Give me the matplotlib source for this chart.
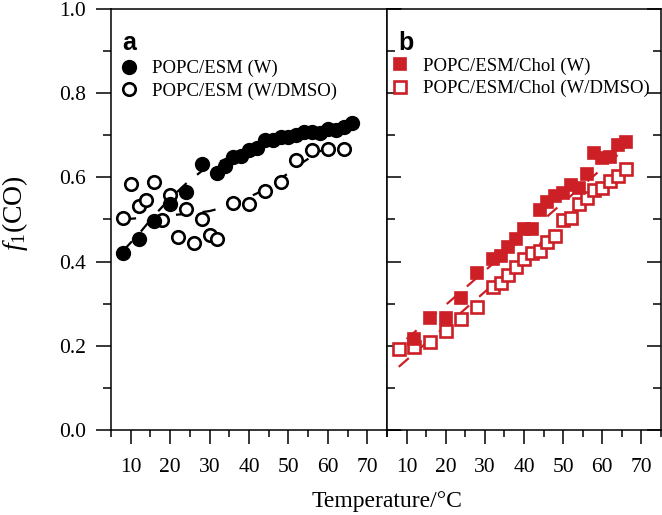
import matplotlib
matplotlib.use('Agg')
import matplotlib.pyplot as plt
from matplotlib.ticker import MultipleLocator

plt.rcParams['font.family'] = 'Liberation Serif'
plt.rcParams['mathtext.fontset'] = 'custom'
plt.rcParams['mathtext.rm'] = 'Liberation Serif'
plt.rcParams['mathtext.it'] = 'Liberation Serif:italic'

# panel a: POPC/ESM
t_esm_w = [8, 12, 16, 20, 24, 28, 32, 34, 36, 38, 40, 42, 44, 46, 48, 50, 52, 54, 56, 58, 60, 62, 64, 66]
f_esm_w = [0.421, 0.453, 0.497, 0.536, 0.566, 0.633, 0.610, 0.628, 0.649, 0.651, 0.665, 0.669,
           0.689, 0.689, 0.697, 0.697, 0.701, 0.709, 0.709, 0.705, 0.716, 0.713, 0.720, 0.730]
t_esm_d = [8, 10, 12, 14, 16, 18, 20, 22, 24, 26, 28, 30, 32, 36, 40, 44, 48, 52, 56, 60, 64]
f_esm_d = [0.503, 0.584, 0.531, 0.546, 0.588, 0.499, 0.558, 0.459, 0.524, 0.443, 0.501, 0.463,
           0.453, 0.540, 0.538, 0.568, 0.588, 0.641, 0.665, 0.667, 0.667]
# fitted curves
fit_t_esm_w = [8, 12, 16, 20, 24, 28, 32, 36, 40, 44, 48, 52, 56, 60, 66]
fit_f_esm_w = [0.425, 0.465, 0.51, 0.55, 0.585, 0.615, 0.635, 0.652, 0.668, 0.68, 0.692, 0.70, 0.708, 0.715, 0.725]
fit_t_esm_d = [8, 14, 20, 26, 30, 34, 38, 42, 46, 50, 54, 58, 64]
fit_f_esm_d = [0.50, 0.505, 0.51, 0.515, 0.52, 0.53, 0.545, 0.562, 0.585, 0.61, 0.638, 0.662, 0.69]

# panel b: POPC/ESM/Chol
t_chol_w = [12, 16, 20, 24, 28, 32, 34, 36, 38, 40, 42, 44, 46, 48, 50, 52, 54, 56, 58, 60, 62, 64, 66]
f_chol_w = [0.215, 0.265, 0.265, 0.314, 0.372, 0.405, 0.413, 0.435, 0.453, 0.477, 0.477, 0.523,
            0.542, 0.556, 0.562, 0.582, 0.574, 0.608, 0.657, 0.645, 0.649, 0.677, 0.685]
t_chol_d = [8, 12, 16, 20, 24, 28, 32, 34, 36, 38, 40, 42, 44, 46, 48, 50, 52, 54, 56, 58, 60, 62, 64, 66]
f_chol_d = [0.192, 0.198, 0.210, 0.236, 0.264, 0.291, 0.339, 0.349, 0.368, 0.388, 0.406, 0.420,
            0.426, 0.447, 0.461, 0.500, 0.503, 0.537, 0.550, 0.570, 0.574, 0.592, 0.603, 0.621]
fit_t_chol_w = [10, 66]
fit_f_chol_w = [0.216, 0.67]
fit_t_chol_d = [8, 66]
fit_f_chol_d = [0.150, 0.62]

red = '#cd1f26'

fig = plt.figure(figsize=(6.62, 5.15), dpi=100)
axa = fig.add_axes([111/662, 1 - 430/515, 276/662, 421/515])
axb = fig.add_axes([387/662, 1 - 430/515, 274/662, 421/515], sharey=axa)

dash = dict(ls=(0, (6, 6)), lw=1.6, zorder=1)
axa.plot(fit_t_esm_w, fit_f_esm_w, color='black', **dash)
axa.plot(fit_t_esm_d, fit_f_esm_d, color='black', **dash)
axa.plot(t_esm_w, f_esm_w, 'o', ms=9.5, color='black', mec='black', mew=1.5, zorder=3,
         label='POPC/ESM (W)')
axa.plot(t_esm_d, f_esm_d, 'o', ms=9, mfc='white', mec='black', mew=1.9, zorder=2,
         label='POPC/ESM (W/DMSO)')

axb.plot(fit_t_chol_w, fit_f_chol_w, color=red, **dash)
axb.plot(fit_t_chol_d, fit_f_chol_d, color=red, **dash)
axb.plot(t_chol_w, f_chol_w, 's', ms=8.5, color=red, mec=red, mew=1.2, zorder=3,
         label='POPC/ESM/Chol (W)')
axb.plot(t_chol_d, f_chol_d, 's', ms=8, mfc='white', mec=red, mew=1.9, zorder=2,
         label='POPC/ESM/Chol (W/DMSO)')

for ax in (axa, axb):
    ax.set_xlim(5, 75)
    ax.set_ylim(0, 1.0)
    ax.xaxis.set_major_locator(MultipleLocator(10))
    ax.xaxis.set_minor_locator(MultipleLocator(5))
    ax.yaxis.set_major_locator(MultipleLocator(0.2))
    ax.yaxis.set_minor_locator(MultipleLocator(0.1))
    for s in ax.spines.values():
        s.set_linewidth(1.1)
    ax.tick_params(axis='x', which='both', direction='out', top=False, labelsize=15.5, width=1.1, pad=10)
    ax.tick_params(axis='x', which='major', length=10)
    ax.tick_params(axis='x', which='minor', length=5)

axa.legend(loc='upper left', bbox_to_anchor=(-0.018, 0.91), frameon=False, fontsize=13.5,
           handlelength=1.0, handletextpad=0.75, labelspacing=0.28, borderaxespad=0.3)
axb.legend(loc='upper left', bbox_to_anchor=(-0.035, 0.916), frameon=False, fontsize=13.5,
           handlelength=1.0, handletextpad=0.75, labelspacing=0.28, borderaxespad=0.3)

axa.tick_params(axis='y', which='both', left=True, right=True, width=1.1, labelsize=15.5)
axa.tick_params(axis='y', which='major', length=11, pad=7)
axa.tick_params(axis='y', which='minor', length=6)
axa.tick_params(axis='y', which='both', direction='out')
axa.yaxis.set_major_formatter(matplotlib.ticker.FormatStrFormatter('%.1f'))
axb.tick_params(axis='y', which='both', left=True, right=True, direction='in', width=1.1, labelleft=False)
axb.tick_params(axis='y', which='major', length=10)
axb.tick_params(axis='y', which='minor', length=6)

axa.text(0.04, 0.948, 'a', transform=axa.transAxes, fontsize=18, fontweight='bold',
         family='Liberation Sans', va='top')
axb.text(0.04, 0.948, 'b', transform=axb.transAxes, fontsize=18, fontweight='bold',
         family='Liberation Sans', va='top')

fig.text(387/662, 1 - 501/515, 'Temperature/°C', ha='center', va='center', fontsize=17)
fig.text(15/662, 1 - 213/515, r'$f_{\mathit{1}}$(CO)', ha='center', va='center', rotation=90, fontsize=20)

fig.savefig('out.png', dpi=100)
